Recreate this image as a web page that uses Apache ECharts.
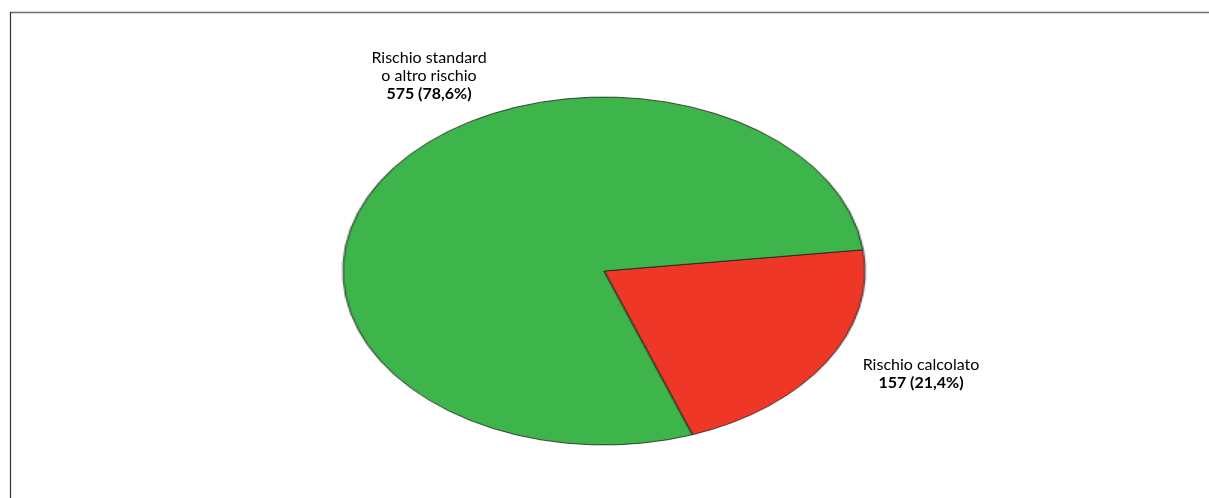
<!DOCTYPE html>
<html>
<head>
<meta charset="utf-8">
<script src="https://cdn.jsdelivr.net/npm/echarts@6/dist/echarts.min.js"></script>
<style>
  html, body { margin: 0; padding: 0; background: #fff; }
  #wrap { position: relative; width: 1209px; height: 498px; overflow: hidden; background: #fff; }
  #pie { position: absolute; left: 0; top: 0; width: 1209px; height: 498px;
         transform: scaleX(1.5); transform-origin: 604px 271px; }
  #over { position: absolute; left: 0; top: 0; width: 1209px; height: 498px; }
</style>
</head>
<body>
<div id="wrap">
  <div id="pie"></div>
  <div id="over"></div>
</div>
<script>
// Categories and counts
const categories = ['Rischio calcolato', 'Rischio standard\no altro rischio'];
const counts = [157, 575];
const colors = ['#EE3726', '#3EB54B'];

const total = counts.reduce((a, b) => a + b, 0);
const pct = v => (v / total * 100).toFixed(1).replace('.', ',');

// Pie drawn as a circle, stretched horizontally into an ellipse
const pieChart = echarts.init(document.getElementById('pie'), null, { renderer: 'canvas' });
pieChart.setOption({
  animation: false,
  series: [{
    type: 'pie',
    center: [604, 271],
    radius: [0, 174],
    startAngle: 7,
    clockwise: true,
    label: { show: false },
    labelLine: { show: false },
    itemStyle: { borderColor: '#1a1a1a', borderWidth: 0.8 },
    emphasis: { disabled: true },
    data: categories.map((c, i) => ({ name: c, value: counts[i], itemStyle: { color: colors[i] } }))
  }]
});

// Frame and slice labels
const fontFam = 'Lato, "Open Sans", sans-serif';
function labelText(i) {
  const lines = categories[i].split('\n').map(l => '{n|' + l + '}');
  lines.push('{b|' + counts[i] + ' (' + pct(counts[i]) + '%)}');
  return lines.join('\n');
}
const rich = {
  n: { fontFamily: fontFam, fontSize: 16, color: '#333', lineHeight: 18 },
  b: { fontFamily: fontFam, fontSize: 16, fontWeight: 'bold', color: '#333', lineHeight: 18 }
};
const over = echarts.init(document.getElementById('over'), null, { renderer: 'canvas' });
over.setOption({
  animation: false,
  graphic: [
    { type: 'line', shape: { x1: 10, y1: 12.5, x2: 1209, y2: 12.5 }, style: { stroke: '#6f6f6f', lineWidth: 1.5 } },
    { type: 'line', shape: { x1: 10.5, y1: 12, x2: 10.5, y2: 498 }, style: { stroke: '#333', lineWidth: 1.2 } },
    { type: 'text', x: 429, y: 49, style: { text: labelText(1), rich: rich, align: 'center', verticalAlign: 'top' } },
    { type: 'text', x: 921, y: 356, style: { text: labelText(0), rich: rich, align: 'center', verticalAlign: 'top' } }
  ]
});
</script>
</body>
</html>
